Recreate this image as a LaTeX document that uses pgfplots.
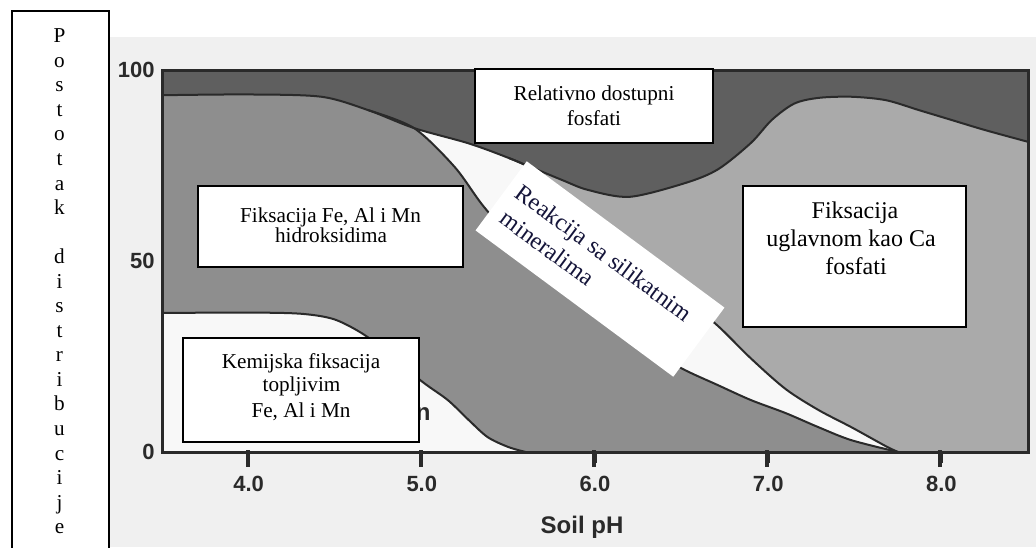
\documentclass[border=0pt]{standalone}
\usepackage{fontspec}
\setmainfont{Liberation Serif}
\newfontfamily\sansf{Liberation Sans}
\usepackage{pgfplots}
\pgfplotsset{compat=1.18}
\definecolor{darkc}{HTML}{5F5F5F}
\definecolor{medc}{HTML}{8E8E8E}
\definecolor{cac}{HTML}{AAAAAA}
\definecolor{axc}{HTML}{2A2A2A}
\definecolor{bgc}{HTML}{F0F0F0}
\definecolor{whc}{HTML}{F8F8F8}
\definecolor{navy}{HTML}{15153A}
\newcommand{\boxfont}{\fontsize{10.6}{12.5}\selectfont}
\newcommand{\bigfont}{\fontsize{12}{14}\selectfont}
\begin{document}
\begin{tikzpicture}
\useasboundingbox (0,0) rectangle (518pt,-273.5pt);
\begin{scope}
\clip (0,0) rectangle (518pt,-273.5pt);
\begin{scope}[x=0.5pt,y=-0.5pt]
\fill[bgc] (110,37) rectangle (1036,547);
\draw[line width=0.75pt, fill=white] (12,11) rectangle (109,600);
\foreach \l [count=\i from 0] in {P,o,s,t,o,t,a,k}
  \node[anchor=base, inner sep=0, font=\boxfont] at (59.5, {42.7+24.55*\i}) {\l};
\foreach \l [count=\i from 9] in {d,i,s,t,r,i,b,u,c,i,j,e}
  \node[anchor=base, inner sep=0, font=\boxfont] at (59.5, {42.7+24.55*\i}) {\l};
\end{scope}
\end{scope}

\begin{axis}[
  at={(81pt,-226pt)}, anchor=south west,
  width=433pt, height=191pt, scale only axis,
  xmin=3.5, xmax=8.5, ymin=0, ymax=100,
  xtick={4,5,6,7,8}, xticklabels={4.0,5.0,6.0,7.0,8.0},
  ytick={0,50,100}, yticklabels={0,50,100},
  xtick pos=bottom, ytick pos=left,
  xtick align=outside, ytick align=inside,
  axis background/.style={fill=darkc},
  axis on top,
  axis line style={line width=1.5pt, draw=axc},
  major tick length=5.5pt,
  x tick style={line width=1.5pt, draw=axc},
  y tick style={draw=none},
  ticklabel style={font=\fontsize{11}{13}\sansf\bfseries, text=axc, inner sep=0},
  xticklabel style={yshift=-6.5pt},
  yticklabel style={xshift=-3.5pt},
  /pgf/number format/assume math mode=true,
]
% Ca region (everything under the top curve)
\addplot[fill=cac, draw=none, smooth] coordinates {
 (3.5,93.4) (4.0,93.6) (4.42,93.0) (4.69,89.5) (4.955,84.8) (5.27,80.8) (5.5,77.0)
 (5.81,71.2) (5.96,68.6) (6.2,66.8) (6.52,70.4) (6.71,74.0) (6.9,80.9) (7.02,86.9)
 (7.15,91.2) (7.29,92.7) (7.48,93.0) (7.68,92.1) (7.87,89.5) (8.06,86.9) (8.25,84.3) (8.5,81.2)
} \closedcycle;
% silicate reaction (white)
\addplot[fill=whc, draw=none, smooth] coordinates {
 (3.5,93.4) (4.0,93.6) (4.42,93.0) (4.69,89.5) (4.955,84.8) (5.27,80.8) (5.5,77.0)
 (5.6,75.0) (5.75,70.5) (5.9,65) (6.1,57) (6.3,49) (6.5,41) (6.71,33) (6.9,24.5)
 (7.1,16.5) (7.29,11) (7.48,6.5) (7.68,1.5) (7.75,0)
} \closedcycle;
% Fe, Al, Mn hydroxide fixation
\addplot[fill=medc, draw=none, smooth] coordinates {
 (3.5,93.4) (4.0,93.6) (4.42,93.0) (4.69,89.5) (4.955,84.8) (5.19,74.6) (5.36,64.1)
 (5.6,52) (5.9,39.5) (6.2,29.5) (6.495,22.0) (6.71,17.5) (6.9,13.6) (7.1,10.2)
 (7.29,6.5) (7.48,3.1) (7.75,0)
} \closedcycle;
% chemical fixation by soluble Fe, Al, Mn
\addplot[fill=whc, draw=none, smooth] coordinates {
 (3.5,36.4) (4.0,36.5) (4.3,36.2) (4.49,34.8) (4.65,31.2) (4.8,26.2) (5.0,18.5)
 (5.15,13.6) (5.27,8.4) (5.38,3.9) (5.5,1.3) (5.6,0)
} \closedcycle;
% boundary lines
\addplot[draw=axc, line width=1pt, smooth] coordinates {
 (3.5,93.4) (4.0,93.6) (4.42,93.0) (4.69,89.5) (4.955,84.8) (5.27,80.8) (5.5,77.0)
 (5.81,71.2) (5.96,68.6) (6.2,66.8) (6.52,70.4) (6.71,74.0) (6.9,80.9) (7.02,86.9)
 (7.15,91.2) (7.29,92.7) (7.48,93.0) (7.68,92.1) (7.87,89.5) (8.06,86.9) (8.25,84.3) (8.5,81.2)
};
\addplot[draw=axc, line width=1pt, smooth] coordinates {
 (4.69,89.5) (4.955,84.8) (5.19,74.6) (5.36,64.1)
 (5.6,52) (5.9,39.5) (6.2,29.5) (6.495,22.0) (6.71,17.5) (6.9,13.6) (7.1,10.2)
 (7.29,6.5) (7.48,3.1) (7.75,0)
};
\addplot[draw=axc, line width=1pt, smooth] coordinates {
 (5.5,77.0) (5.6,75.0) (5.75,70.5) (5.9,65) (6.1,57) (6.3,49) (6.5,41) (6.71,33) (6.9,24.5)
 (7.1,16.5) (7.29,11) (7.48,6.5) (7.68,1.5) (7.75,0)
};
\addplot[draw=axc, line width=1pt, smooth] coordinates {
 (3.5,36.4) (4.0,36.5) (4.3,36.2) (4.49,34.8) (4.65,31.2) (4.8,26.2) (5.0,18.5)
 (5.15,13.6) (5.27,8.4) (5.38,3.9) (5.5,1.3) (5.6,0)
};
\end{axis}

\begin{scope}[x=0.5pt,y=-0.5pt]
% tick marks below the x axis
\foreach \tx in {248,421,594,767,940}
  \fill[axc] ({\tx-1.8},450) rectangle ({\tx+1.8},467);
\node[anchor=base east, inner sep=0, font=\fontsize{12}{14}\sansf\bfseries, text=axc] at (431,420) {Mn};
\node[anchor=base, inner sep=0, font=\fontsize{12}{14}\sansf\bfseries, text=axc] at (582,533) {Soil pH};
% text boxes
\draw[line width=0.75pt, fill=white] (475,69) rectangle (713,143);
\node[anchor=base, inner sep=0, font=\boxfont] at (594,100) {Relativno dostupni};
\node[anchor=base, inner sep=0, font=\boxfont] at (594,125) {fosfati};
\draw[line width=0.75pt, fill=white] (198,186) rectangle (463,267);
\node[anchor=base, inner sep=0, font=\boxfont] at (330.5,222.7) {Fiksacija Fe, Al i Mn};
\node[anchor=base, inner sep=0, font=\boxfont] at (331,242) {hidroksidima};
\draw[line width=0.75pt, fill=white] (183,338) rectangle (419,442);
\node[anchor=base, inner sep=0, font=\boxfont] at (301,368) {Kemijska fiksacija};
\node[anchor=base, inner sep=0, font=\boxfont] at (301.5,391.7) {topljivim};
\node[anchor=base, inner sep=0, font=\boxfont] at (301,417.7) {Fe, Al i Mn};
\draw[line width=0.75pt, fill=white] (743,186) rectangle (966,327);
\node[anchor=base, inner sep=0, font=\bigfont] at (855,218) {Fiksacija};
\node[anchor=base, inner sep=0, font=\bigfont] at (851,246) {uglavnom kao Ca};
\node[anchor=base, inner sep=0, font=\bigfont] at (856,274) {fosfati};
% rotated label
\node[rotate=-36.5, fill=white, minimum width=123pt, minimum height=43pt, inner sep=0] at (600,269) {};
\node[rotate=-36.5, anchor=base west, inner sep=0, font=\bigfont, text=navy] at (513.5,195.9) {Reakcija sa silikatnim};
\node[rotate=-36.5, anchor=base west, inner sep=0, font=\bigfont, text=navy] at (498.6,221.7) {mineralima};
\end{scope}
\end{tikzpicture}
\end{document}
